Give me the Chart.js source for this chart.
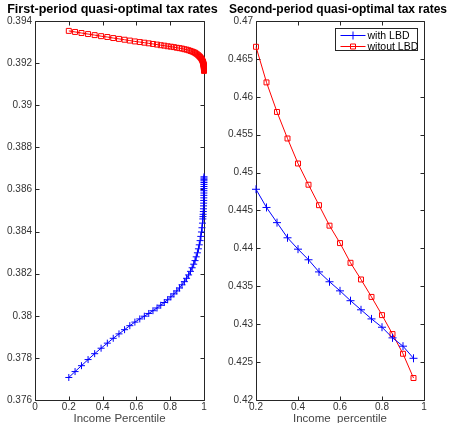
<!DOCTYPE html>
<html>
<head>
<meta charset="utf-8">
<script src="https://cdn.jsdelivr.net/npm/chart.js@4.4.1/dist/chart.umd.min.js"></script>
<style>
  body { margin: 0; background: #fff; }
  #wrap { position: relative; width: 451px; height: 423px; }
  canvas { position: absolute; top: 0; }
</style>
</head>
<body>
<div id="wrap">
  <canvas id="first" width="225" height="423" style="left:0"></canvas>
  <canvas id="second" width="226" height="423" style="left:225px"></canvas>
</div>
<script>
// first period: income percentile grid (denser towards the top)
const firstX = [0.200, 0.237, 0.275, 0.314, 0.353, 0.391, 0.428, 0.463, 0.497, 0.530,
  0.561, 0.591, 0.620, 0.647, 0.673, 0.698, 0.722, 0.744, 0.765, 0.785,
  0.804, 0.822, 0.839, 0.855, 0.870, 0.884, 0.897, 0.909, 0.920, 0.930,
  0.939, 0.947, 0.954, 0.961, 0.967, 0.972, 0.977, 0.981, 0.985, 0.988,
  0.991, 0.993, 0.994, 0.995, 0.996, 0.9968, 0.9975, 0.998, 0.9985, 0.9988,
  0.9991, 0.9993, 0.9995, 0.9996, 0.9997, 0.9998, 0.99985, 0.9999, 0.99994, 0.99997, 1.0];
const firstWithLBD = [0.37707, 0.37735, 0.37763, 0.37792, 0.37820, 0.37846, 0.37870, 0.37893, 0.37914, 0.37934,
  0.37953, 0.37970, 0.37985, 0.37998, 0.38011, 0.38024, 0.38037, 0.38050, 0.38063, 0.38076,
  0.38090, 0.38104, 0.38118, 0.38132, 0.38147, 0.38162, 0.38178, 0.38194, 0.38211, 0.38228,
  0.38245, 0.38262, 0.38280, 0.38299, 0.38318, 0.38337, 0.38357, 0.38377, 0.38398, 0.38418,
  0.38440, 0.38460, 0.38471, 0.38482, 0.38495, 0.38508, 0.38522, 0.38535, 0.38548, 0.38560,
  0.38572, 0.38583, 0.38594, 0.38604, 0.38614, 0.38624, 0.38633, 0.38641, 0.38648, 0.38654, 0.38660];
const firstWithoutLBD = [0.39353, 0.39348, 0.39343, 0.39338, 0.39333, 0.39328, 0.39324, 0.39319, 0.39315, 0.39311,
  0.39307, 0.39303, 0.39300, 0.39297, 0.39294, 0.39291, 0.39288, 0.39285, 0.39283, 0.39280,
  0.39278, 0.39276, 0.39273, 0.39271, 0.39269, 0.39266, 0.39264, 0.39261, 0.39258, 0.39255,
  0.39252, 0.39249, 0.39245, 0.39241, 0.39237, 0.39233, 0.39229, 0.39225, 0.39220, 0.39216,
  0.39211, 0.39207, 0.39205, 0.39202, 0.39199, 0.39196, 0.39193, 0.39191, 0.39188, 0.39186,
  0.39183, 0.39181, 0.39179, 0.39177, 0.39175, 0.39173, 0.39171, 0.39169, 0.39167, 0.39165, 0.39163];

// second period
const secondX = [0.2, 0.25, 0.3, 0.35, 0.4, 0.45, 0.5, 0.55, 0.6, 0.65, 0.7, 0.75, 0.8, 0.85, 0.9, 0.95];
const secondWithLBD = [0.4478, 0.4454, 0.4434, 0.4414, 0.4399, 0.4385, 0.4369, 0.4356, 0.4344, 0.4331,
  0.4319, 0.4307, 0.4296, 0.4282, 0.4271, 0.4255];
const secondWithoutLBD = [0.4666, 0.4619, 0.4580, 0.4545, 0.4512, 0.4484, 0.4457, 0.4430, 0.4407, 0.4381,
  0.4359, 0.4336, 0.4312, 0.4287, 0.4261, 0.4229];

const firstXTicks = [0, 0.2, 0.4, 0.6, 0.8, 1];
const firstYTicks = [0.376, 0.378, 0.38, 0.382, 0.384, 0.386, 0.388, 0.39, 0.392, 0.394];
const secondXTicks = [0.2, 0.4, 0.6, 0.8, 1];
const secondYTicks = [0.42, 0.425, 0.43, 0.435, 0.44, 0.445, 0.45, 0.455, 0.46, 0.465, 0.47];

const seriesNames = ['with LBD', 'witout LBD'];
const BLUE = '#0000ff';
const RED = '#ff0000';
const FONT = '"Liberation Sans", Arial, Helvetica, sans-serif';

const fmt = v => parseFloat(v.toFixed(3)).toString();

// MATLAB style box with inward ticks on all four sides
const boxPlugin = {
  id: 'box',
  beforeDatasetsDraw(chart) {
    const { ctx, chartArea: a, scales } = chart;
    const l = Math.round(a.left) + 0.5, r = Math.round(a.right) + 0.5;
    const t = Math.round(a.top) + 0.5, b = Math.round(a.bottom) + 0.5;
    ctx.save();
    ctx.strokeStyle = '#262626';
    ctx.lineWidth = 1;
    ctx.beginPath();
    ctx.moveTo(l, t); ctx.lineTo(r, t); ctx.lineTo(r, b); ctx.lineTo(l, b); ctx.closePath();
    const len = 4;
    scales.x.ticks.forEach(tk => {
      const px = Math.round(scales.x.getPixelForValue(tk.value)) + 0.5;
      ctx.moveTo(px, b); ctx.lineTo(px, b - len);
      ctx.moveTo(px, t); ctx.lineTo(px, t + len);
    });
    scales.y.ticks.forEach(tk => {
      const py = Math.round(scales.y.getPixelForValue(tk.value)) + 0.5;
      ctx.moveTo(l, py); ctx.lineTo(l + len, py);
      ctx.moveTo(r, py); ctx.lineTo(r - len, py);
    });
    ctx.stroke();
    ctx.restore();
  }
};

// legend box inside the plot area, top right
const legendPlugin = {
  id: 'boxLegend',
  afterDraw(chart) {
    const { ctx, chartArea: a } = chart;
    const w = 82, h = 22;
    const x0 = Math.round(a.right) - 89 + 0.5, y0 = Math.round(a.top) + 7 + 0.5;
    ctx.save();
    ctx.fillStyle = '#fff';
    ctx.fillRect(x0, y0, w, h);
    ctx.strokeStyle = '#262626';
    ctx.lineWidth = 1;
    ctx.strokeRect(x0, y0, w, h);
    ctx.font = '10.5px ' + FONT;
    ctx.textBaseline = 'middle';
    chart.data.datasets.forEach((ds, i) => {
      const yy = Math.round(y0 + 6 + i * 11) + 0.5;
      const xs = x0 + 5, xe = x0 + 30, xm = (xs + xe) / 2;
      ctx.strokeStyle = ds.borderColor;
      ctx.beginPath();
      ctx.moveTo(xs, yy); ctx.lineTo(xe, yy);
      if (ds.pointStyle === 'cross') {
        ctx.moveTo(xm - 4, yy); ctx.lineTo(xm + 4, yy);
        ctx.moveTo(xm, yy - 4); ctx.lineTo(xm, yy + 4);
      } else {
        ctx.rect(xm - 2.5, yy - 2.5, 5, 5);
      }
      ctx.stroke();
      ctx.fillStyle = '#000';
      ctx.fillText(ds.label, x0 + 32, yy + 0.5);
    });
    ctx.restore();
  }
};

function makeChart(id, opts) {
  const ctx = document.getElementById(id).getContext('2d');
  const lh = opts.titleSize * 1.2;
  const padTop = 10 - lh / 2;
  return new Chart(ctx, {
    type: 'line',
    data: {
      datasets: [
        {
          label: seriesNames[0],
          data: opts.xs.map((x, i) => ({ x: x, y: opts.blue[i] })),
          borderColor: BLUE,
          backgroundColor: BLUE,
          borderWidth: 1,
          pointStyle: 'cross',
          pointRadius: opts.crossR,
          pointBorderWidth: 1,
          pointBorderColor: BLUE,
          tension: 0,
          clip: false
        },
        {
          label: seriesNames[1],
          data: opts.xs.map((x, i) => ({ x: x, y: opts.red[i] })),
          borderColor: RED,
          backgroundColor: 'rgba(0,0,0,0)',
          borderWidth: 1,
          pointStyle: 'rect',
          pointRadius: 3.5,
          pointBorderWidth: 1,
          pointBorderColor: RED,
          tension: 0,
          clip: false
        }
      ]
    },
    options: {
      responsive: false,
      animation: false,
      devicePixelRatio: 1,
      layout: { padding: 0 },
      plugins: {
        legend: { display: false },
        tooltip: { enabled: false },
        title: {
          display: true,
          text: opts.title,
          color: '#000',
          font: { family: FONT, size: opts.titleSize, weight: 'bold', lineHeight: 1.2 },
          padding: { top: padTop, bottom: 21 - padTop - lh }
        }
      },
      scales: {
        x: {
          type: 'linear',
          min: opts.xTicks[0],
          max: opts.xTicks[opts.xTicks.length - 1],
          afterBuildTicks: s => { s.ticks = opts.xTicks.map(v => ({ value: v })); },
          afterFit: s => { s.height = 23; },
          grid: { display: false, drawTicks: false },
          border: { display: false },
          ticks: {
            autoSkip: false, maxRotation: 0, padding: 1,
            color: '#333', font: { family: FONT, size: 10 },
            callback: v => fmt(v)
          },
          title: {
            display: true, text: opts.xTitle, color: '#444',
            font: { family: FONT, size: 11.5, lineHeight: 0.75 },
            padding: { top: 0, bottom: 0 }
          }
        },
        y: {
          type: 'linear',
          min: opts.yTicks[0],
          max: opts.yTicks[opts.yTicks.length - 1],
          afterBuildTicks: s => { s.ticks = opts.yTicks.map(v => ({ value: v })); },
          afterFit: s => { s.width = opts.yWidth; },
          grid: { display: false, drawTicks: false },
          border: { display: false },
          ticks: {
            autoSkip: false, padding: 3,
            color: '#333', font: { family: FONT, size: 10 },
            callback: v => fmt(v)
          }
        },
        // empty right-hand axis: keeps the margin without narrowing the title
        yRight: {
          type: 'linear',
          position: 'right',
          afterFit: s => { s.width = opts.padRight; },
          grid: { display: false, drawTicks: false },
          border: { display: false },
          ticks: { display: false }
        }
      }
    },
    plugins: opts.withLegend ? [boxPlugin, legendPlugin] : [boxPlugin]
  });
}

makeChart('first', {
  xs: firstX, blue: firstWithLBD, red: firstWithoutLBD,
  xTicks: firstXTicks, yTicks: firstYTicks,
  title: 'First-period quasi-optimal tax rates', titleSize: 12.6,
  xTitle: 'Income Percentile',
  yWidth: 35, padRight: 21, crossR: 3.5, withLegend: false
});

makeChart('second', {
  xs: secondX, blue: secondWithLBD, red: secondWithoutLBD,
  xTicks: secondXTicks, yTicks: secondYTicks,
  title: 'Second-period quasi-optimal tax rates', titleSize: 12,
  xTitle: 'Income  percentile',
  yWidth: 31, padRight: 27, crossR: 4, withLegend: true
});
</script>
</body>
</html>
